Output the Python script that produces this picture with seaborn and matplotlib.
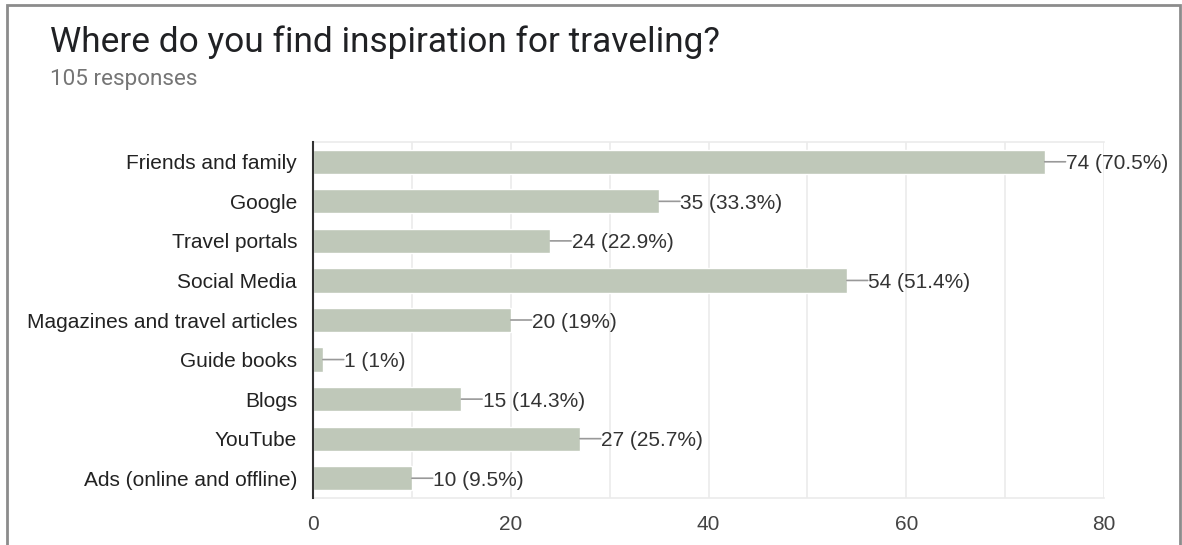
import matplotlib
matplotlib.use("Agg")
import matplotlib.pyplot as plt
import seaborn as sns
import pandas as pd

categories = ["Friends and family", "Google", "Travel portals", "Social Media",
              "Magazines and travel articles", "Guide books", "Blogs", "YouTube",
              "Ads (online and offline)"]
counts = [74, 35, 24, 54, 20, 1, 15, 27, 10]
labels = ["74 (70.5%)", "35 (33.3%)", "24 (22.9%)", "54 (51.4%)", "20 (19%)",
          "1 (1%)", "15 (14.3%)", "27 (25.7%)", "10 (9.5%)"]
title = "Where do you find inspiration for traveling?"
subtitle = "105 responses"
xticks = [0, 20, 40, 60, 80]

sns.set_theme(style="white")
plt.rcParams['font.family'] = ['Liberation Sans', 'DejaVu Sans']

df = pd.DataFrame({"cat": categories, "n": counts})

fig = plt.figure(figsize=(11.82, 5.45), dpi=100)
ax = fig.add_axes([313/1182, 1-498/545, (1104-313)/1182, (498-142)/545])

sns.barplot(data=df, y="cat", x="n", orient="h", color="#BFC8B9",
            saturation=1, width=0.61, ax=ax, zorder=3)

ax.set_xlim(0, 80)
ax.set_ylim(8.5, -0.5)
ax.set_xticks(xticks)
ax.set_xticks([10, 30, 50, 70], minor=True)
ax.grid(axis="x", which="both", color="#EBEBEB", lw=1.2, zorder=0)
ax.set_axisbelow(True)
ax.set_xlabel("")
ax.set_ylabel("")
ax.tick_params(axis="x", length=0, pad=12, labelsize=15, labelcolor="#444444", which="both")
ax.tick_params(axis="y", length=0, pad=11.5, labelsize=15, labelcolor="#222222")

for s in ["top", "bottom"]:
    ax.spines[s].set_color("#EBEBEB")
    ax.spines[s].set_linewidth(1.2)
ax.spines["right"].set_visible(False)
ax.spines["left"].set_color("#333333")
ax.spines["left"].set_linewidth(1.5)
ax.spines["left"].set_zorder(5)

for i, (v, lab) in enumerate(zip(counts, labels)):
    # leader line
    ax.annotate("", xy=(v, i), xytext=(15, 0), textcoords="offset points",
                arrowprops=dict(arrowstyle="-", color="#999999", lw=1.2,
                                shrinkA=0, shrinkB=0, patchA=None),
                annotation_clip=False)
    # value label
    ax.annotate(lab, xy=(v, i), xytext=(15.3, 0), textcoords="offset points",
                ha="left", va="center_baseline", fontsize=15, color="#333333",
                annotation_clip=False)

fig.text(50/1182, 1-52/545, title, fontsize=25.4, family="Roboto",
         color="#202124", ha="left", va="baseline")
fig.text(50/1182, 1-85/545, subtitle, fontsize=16.2, family="Roboto",
         color="#757575", ha="left", va="baseline")

border = plt.Rectangle((6.5/1182, -0.05), (1180-6.5)/1182, 1.05 - 5.5/545,
                       transform=fig.transFigure, fill=False,
                       edgecolor="#8C8C8C", lw=2, zorder=10)
fig.patches.append(border)

fig.savefig("out.png", dpi=100)
